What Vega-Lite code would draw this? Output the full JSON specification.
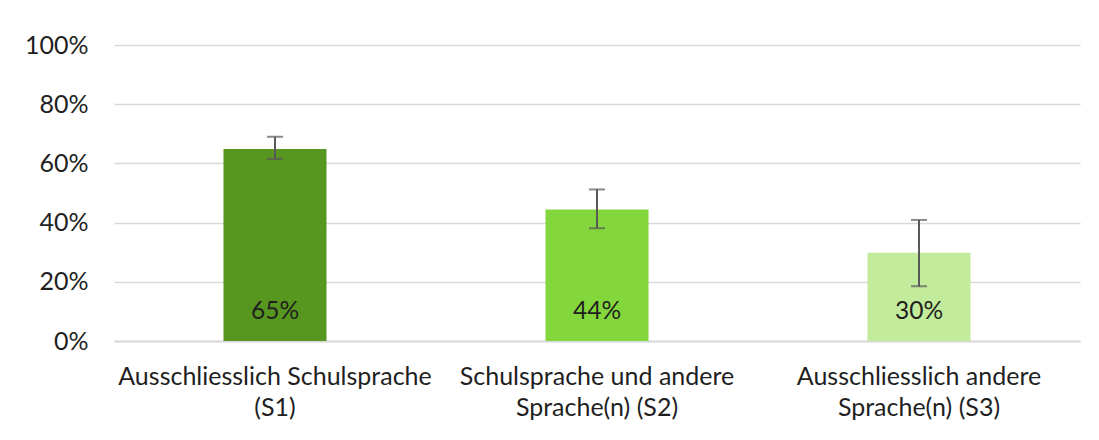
{
  "$schema": "https://vega.github.io/schema/vega-lite/v6.json",
  "width": 966,
  "height": 296,
  "autosize": {"type": "none"},
  "padding": {"left": 114, "top": 45, "right": 19, "bottom": 99},
  "background": "white",
  "config": {
    "view": {"stroke": null},
    "font": "Lato",
    "axis": {"labelColor": "#1f1f1f", "labelFont": "Lato"}
  },
  "data": {
    "values": [
      {"cat": "Ausschliesslich Schulsprache|(S1)", "v": 0.649, "lo": 0.615, "hi": 0.69, "lab": "65%"},
      {"cat": "Schulsprache und andere|Sprache(n) (S2)", "v": 0.444, "lo": 0.381, "hi": 0.512, "lab": "44%"},
      {"cat": "Ausschliesslich andere|Sprache(n) (S3)", "v": 0.298, "lo": 0.185, "hi": 0.409, "lab": "30%"}
    ]
  },
  "encoding": {
    "x": {
      "field": "cat",
      "type": "nominal",
      "sort": null,
      "scale": {"paddingInner": 0.68, "paddingOuter": 0.34},
      "axis": {
        "title": null,
        "labelAngle": 0,
        "labelExpr": "split(datum.value, '|')",
        "labelFontSize": 25,
        "labelLineHeight": 31,
        "labelPadding": 35,
        "labelLimit": 0,
        "labelBaseline": "middle",
        "ticks": false,
        "domain": true,
        "domainColor": "#d9d9d9",
        "domainWidth": 2,
        "grid": false
      }
    }
  },
  "layer": [
    {
      "mark": {"type": "bar"},
      "encoding": {
        "y": {
          "field": "v",
          "type": "quantitative",
          "scale": {"domain": [0, 1]},
          "axis": {
            "title": null,
            "format": ".0%",
            "values": [0, 0.2, 0.4, 0.6, 0.8, 1],
            "domain": false,
            "ticks": false,
            "grid": true,
            "gridColor": "#d9d9d9",
            "gridWidth": 1.5,
            "labelFontSize": 25,
            "labelPadding": 26
          }
        },
        "color": {
          "field": "cat",
          "type": "nominal",
          "scale": {
            "domain": ["Ausschliesslich Schulsprache|(S1)", "Schulsprache und andere|Sprache(n) (S2)", "Ausschliesslich andere|Sprache(n) (S3)"],
            "range": ["#57961f", "#83d63b", "#c3eb9c"]
          },
          "legend": null
        }
      }
    },
    {
      "mark": {"type": "rule", "color": "#595959", "strokeWidth": 2},
      "encoding": {
        "y": {"field": "lo", "type": "quantitative"},
        "y2": {"field": "hi"}
      }
    },
    {
      "mark": {"type": "tick", "color": "#595959", "thickness": 2, "size": 16},
      "encoding": {"y": {"field": "lo", "type": "quantitative"}}
    },
    {
      "mark": {"type": "tick", "color": "#595959", "thickness": 2, "size": 16},
      "encoding": {"y": {"field": "hi", "type": "quantitative"}}
    },
    {
      "mark": {"type": "text", "fontSize": 24.5, "color": "#1f1f1f", "baseline": "middle", "dy": -29, "font": "Lato"},
      "encoding": {
        "y": {"datum": 0},
        "text": {"field": "lab"}
      }
    }
  ]
}
